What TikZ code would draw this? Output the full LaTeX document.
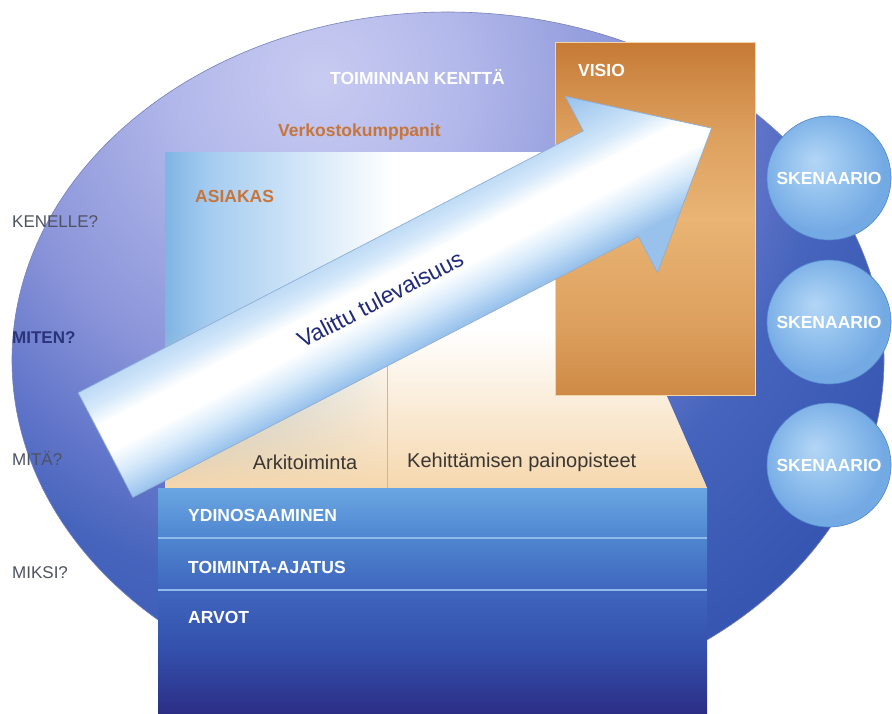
\documentclass[tikz,border=0pt]{standalone}
\usepackage{fontspec}
\setmainfont{Liberation Sans}
\usetikzlibrary{fadings}
\definecolor{ea}{HTML}{C8CBF1}
\definecolor{eb}{HTML}{B2B8EA}
\definecolor{ec}{HTML}{8A94D9}
\definecolor{ed}{HTML}{6276CA}
\definecolor{ee}{HTML}{4664BC}
\definecolor{ef}{HTML}{3656B2}
\definecolor{elline}{HTML}{7880B8}
\definecolor{pa}{HTML}{7FB4E4}
\definecolor{pb}{HTML}{A4CCF0}
\definecolor{peach}{HTML}{F6D8AE}
\definecolor{divc}{HTML}{C8B8A0}
\definecolor{ba}{HTML}{6AA6E2}
\definecolor{bb}{HTML}{4F86D0}
\definecolor{bc}{HTML}{3F66BE}
\definecolor{bd}{HTML}{3350AC}
\definecolor{be}{HTML}{2C2E86}
\definecolor{sepc}{HTML}{90BAEA}
\definecolor{va}{HTML}{C67A36}
\definecolor{vb}{HTML}{DDA05E}
\definecolor{vc}{HTML}{E9B474}
\definecolor{vd}{HTML}{CE8A46}
\definecolor{vborder}{HTML}{F2D6A6}
\definecolor{aa}{HTML}{98C2EC}
\definecolor{ab}{HTML}{D4E8FA}
\definecolor{ac}{HTML}{BCD9F5}
\definecolor{aline}{HTML}{8EAED6}
\definecolor{ca}{HTML}{B4D6F6}
\definecolor{cb}{HTML}{94C2EE}
\definecolor{cc}{HTML}{74AAE4}
\definecolor{cline}{HTML}{5286CC}
\definecolor{orangetxt}{HTML}{C8753A}
\definecolor{graytxt}{HTML}{4E5262}
\definecolor{navytxt}{HTML}{2A347C}
\definecolor{darktxt}{HTML}{3A3632}
\definecolor{arrowtxt}{HTML}{1F2A78}

% path bounding box maps to the central 25bp..75bp (radius 25bp for radial)
\pgfdeclareradialshading{ellsh}{\pgfpoint{0bp}{0bp}}{color(0bp)=(ea); color(4.5bp)=(eb); color(10bp)=(ec); color(13.5bp)=(ed); color(16bp)=(ee); color(21bp)=(ef); color(50bp)=(ef)}
\pgfdeclarehorizontalshading{panelsh}{100bp}{color(0bp)=(pa); color(25bp)=(pa); color(29bp)=(pb); color(46bp)=(white); color(100bp)=(white)}
\pgfdeclareverticalshading{barsh}{100bp}{color(0bp)=(be); color(25bp)=(be); color(39bp)=(bd); color(52.5bp)=(bc); color(64bp)=(bb); color(75bp)=(ba); color(100bp)=(ba)}
\pgfdeclareverticalshading{vissh}{100bp}{color(0bp)=(vd); color(25bp)=(vd); color(35bp)=(vb); color(50bp)=(vc); color(62bp)=(vb); color(75bp)=(va); color(100bp)=(va)}
\pgfdeclareverticalshading{arrsh}{100bp}{color(0bp)=(aa); color(36bp)=(aa); color(43bp)=(ab); color(49bp)=(white); color(56bp)=(white); color(61bp)=(ab); color(66bp)=(ac); color(75bp)=(aa); color(100bp)=(aa)}
\pgfdeclareradialshading{cirsh}{\pgfpoint{-6bp}{7bp}}{color(0bp)=(ca); color(12bp)=(cb); color(25bp)=(cc); color(50bp)=(cc)}

\tikzset{
  lbl/.style={anchor=west, inner sep=0pt, font=\fontsize{17}{20}\selectfont},
  qlbl/.style={lbl, text=graytxt},
  wlbl/.style={anchor=west, inner sep=0pt, text=white, font=\fontsize{17.5}{20}\selectfont\bfseries},
  olbl/.style={anchor=west, inner sep=0pt, text=orangetxt, font=\fontsize{17.5}{20}\selectfont\bfseries},
  cell/.style={inner sep=0pt, text=darktxt, font=\fontsize{20}{24}\selectfont},
  scen/.style={circle, minimum size=124pt, inner sep=0pt, shading=cirsh, draw=cline, line width=0.6pt,
               text=white, font=\fontsize{17.5}{20}\selectfont\bfseries},
  sepline/.style={draw=sepc, line width=1.3pt},
}

\begin{document}
\begin{tikzpicture}[x=1pt, y=-1pt]
\useasboundingbox[fill=white] (0,0) rectangle (892,713);

% field ellipse
\begin{scope}
  \clip (448,360) ellipse [x radius=436pt, y radius=348pt];
  \shade[shading=ellsh] (320,80) circle (800pt);
\end{scope}
\draw[elline, line width=0.6pt] (448,360) ellipse [x radius=436pt, y radius=348pt];

% customer panel
\shade[shading=panelsh] (165,152) -- (560,152) -- (707,488) -- (165,488) -- cycle;
\begin{scope}
  \clip (165,152) -- (560,152) -- (707,488) -- (165,488) -- cycle;
  \fill[peach, path fading=north] (165,330) rectangle (707,488);
\end{scope}
\draw[divc, line width=0.8pt] (387,365) -- (387,488);

% layered base
\shade[shading=barsh] (158,488) rectangle (707,713);
\draw[sepline] (158,538) -- (707,538);
\draw[sepline] (158,590) -- (707,590);

% vision box
\shadedraw[shading=vissh, draw=vborder, line width=1pt] (555,42) rectangle (755,395);

% big arrow
\begin{scope}[transform canvas={shift={(105.5pt,-445pt)}, rotate=27.6}, x=1pt, y=1pt]
  \shadedraw[shading=arrsh, draw=aline, line width=0.7pt]
    (0,59) -- (569,57) -- (569,96) -- (684,0) -- (569,-103) -- (569,-62) -- (0,-59) -- cycle;
  \node[inner sep=0pt, text=arrowtxt, font=\fontsize{23}{26}\selectfont] (valittu) at (311,2) {Valittu tulevaisuus};
\end{scope}

% scenarios
\node[scen] (s1) at (829,178) {SKENAARIO};
\node[scen] (s2) at (829,322) {SKENAARIO};
\node[scen] (s3) at (829,465) {SKENAARIO};

% labels
\node[wlbl] (kentta) at (330,77) {TOIMINNAN KENTTÄ};
\node[olbl] (verkosto) at (278,132) {Verkostokumppanit};
\node[olbl] (asiakas) at (195,196) {ASIAKAS};
\node[wlbl] (visio) at (578,70) {VISIO};

\node[qlbl] (kenelle) at (12,222) {KENELLE?};
\node[lbl, text=navytxt, font=\fontsize{17}{20}\selectfont\bfseries] (miten) at (12,338) {MITEN?};
\node[qlbl] (mita) at (12,458) {MITÄ?};
\node[qlbl] (miksi) at (12,573) {MIKSI?};

\node[cell] (arki) at (305,462) {Arkitoiminta};
\node[cell, anchor=west] (kehit) at (407,462) {Kehittämisen painopisteet};

\node[wlbl] (ydin) at (188,515) {YDINOSAAMINEN};
\node[wlbl] (ajatus) at (188,567) {TOIMINTA-AJATUS};
\node[wlbl] (arvot) at (188,617) {ARVOT};
\end{tikzpicture}
\end{document}
